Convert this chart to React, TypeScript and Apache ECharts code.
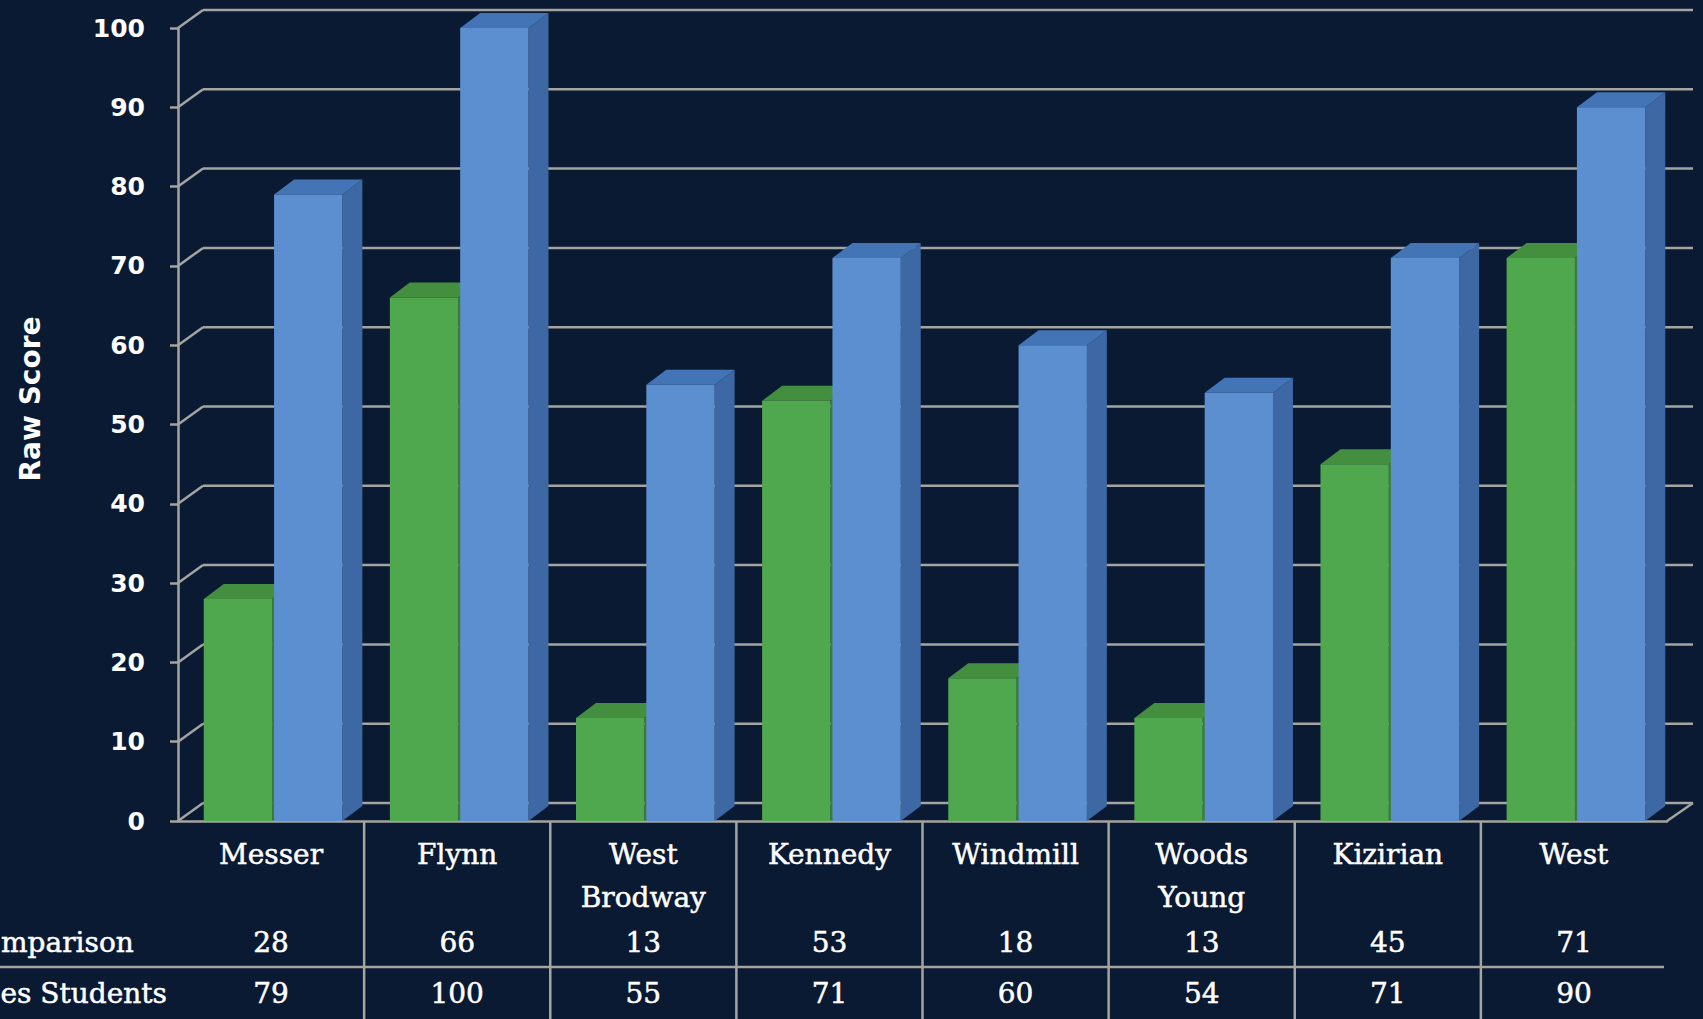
import React, { useEffect, useRef } from "react";
import * as echarts from "echarts";

const categories = ["Messer", "Flynn", "West Brodway", "Kennedy", "Windmill", "Woods Young", "Kizirian", "West"];
const comparison = [28, 66, 13, 53, 18, 13, 45, 71];
const students = [79, 100, 55, 71, 60, 54, 71, 90];
const yTicks = [0, 10, 20, 30, 40, 50, 60, 70, 80, 90, 100];
const rowLabels = ["mparison", "es Students"];
const yAxisTitle = "Raw Score";

const BG = "#0a1a33";
const LINE = "#a4a4a0";
const LW = 2.5;
const DX = 25;
const DY = 18;
const BDX = 20;
const BDY = 15;
const SERIF = '"DejaVu Serif", serif';
const SANS = '"DejaVu Sans", sans-serif';

const greenColors = { front: "#50a84e", top: "#438f3f", side: "#3a7d37" };
const blueColors = { front: "#5b8fd0", top: "#4274b6", side: "#3d68a3" };

const serifStyle = {
  fill: "#ffffff",
  fontFamily: SERIF,
  fontSize: 28,
  stroke: "#ffffff",
  lineWidth: 0.5,
};

function barRender(side: number, colors: { front: string; top: string; side: string }) {
  return (params: any, api: any) => {
    const i = api.value(0);
    const v = api.value(1);
    const base = api.coord([i, 0]);
    const top = api.coord([i, v]);
    const cw = api.size([1, 0])[0];
    const w = cw * 0.367;
    const x0 = side === 0 ? base[0] - w + 1 : base[0] + 3;
    const x1 = x0 + w;
    const y0 = base[1];
    const y1 = top[1];
    return {
      type: "group",
      children: [
        {
          type: "polygon",
          shape: { points: [[x1, y0], [x1 + BDX, y0 - BDY], [x1 + BDX, y1 - BDY], [x1, y1]] },
          style: { fill: colors.side },
        },
        {
          type: "polygon",
          shape: { points: [[x0, y1], [x1, y1], [x1 + BDX, y1 - BDY], [x0 + BDX, y1 - BDY]] },
          style: { fill: colors.top },
        },
        {
          type: "rect",
          shape: { x: x0, y: y1, width: w, height: y0 - y1 },
          style: { fill: colors.front },
        },
      ],
    };
  };
}

function frameRender(params: any, api: any) {
  const v = api.value(1);
  const cs = params.coordSys;
  const y = api.coord([0, v])[1];
  const xl = cs.x;
  const xr = cs.x + cs.width;
  const children: any[] = [
    {
      type: "line",
      shape: { x1: xl + DX, y1: y - DY, x2: xr + DX + 1, y2: y - DY },
      style: { stroke: LINE, lineWidth: LW },
    },
    {
      type: "line",
      shape: { x1: xl, y1: y, x2: xl + DX, y2: y - DY },
      style: { stroke: LINE, lineWidth: LW },
    },
  ];
  if (v === 0) {
    children.push({
      type: "line",
      shape: { x1: xr, y1: y, x2: xr + DX + 1, y2: y - DY },
      style: { stroke: LINE, lineWidth: LW },
    });
  }
  return { type: "group", children };
}

function tableRender(params: any, api: any) {
  const i = api.value(0);
  const cs = params.coordSys;
  const cx = api.coord([i, 0])[0];
  const cw = api.size([1, 0])[0];
  const yb = cs.y + cs.height;
  const children: any[] = [
    {
      type: "text",
      x: cx,
      y: 942,
      style: { ...serifStyle, text: String(comparison[i]), align: "center", verticalAlign: "middle" },
    },
    {
      type: "text",
      x: cx,
      y: 993,
      style: { ...serifStyle, text: String(students[i]), align: "center", verticalAlign: "middle" },
    },
  ];
  if (i < categories.length - 1) {
    children.push({
      type: "line",
      shape: { x1: cx + cw / 2, y1: yb, x2: cx + cw / 2, y2: 1019 },
      style: { stroke: LINE, lineWidth: LW },
    });
  }
  if (i === 0) {
    children.push({
      type: "line",
      shape: { x1: 0, y1: 967, x2: cs.x + cs.width - 3, y2: 967 },
      style: { stroke: LINE, lineWidth: LW },
    });
  }
  return { type: "group", children };
}

export default function App() {
  const ref = useRef<HTMLDivElement>(null);
  useEffect(() => {
    document.body.style.margin = "0";
    const chart = echarts.init(ref.current!, null, { renderer: "svg" });
    chart.setOption({
      animation: false,
      backgroundColor: BG,
      grid: { left: 178, right: 36, top: 28, bottom: 198 },
      xAxis: {
        type: "category",
        data: categories,
        axisLine: { show: true, lineStyle: { color: LINE, width: LW } },
        axisTick: { show: false },
        axisLabel: {
          interval: 0,
          color: "#ffffff",
          fontFamily: SERIF,
          fontSize: 28,
          lineHeight: 43,
          margin: 12,
          textBorderColor: "#ffffff",
          textBorderWidth: 0.5,
          formatter: (v: string) => v.replace(" ", "\n"),
        },
      },
      yAxis: {
        type: "value",
        min: 0,
        max: 100,
        interval: 10,
        axisLine: { show: true, lineStyle: { color: LINE, width: LW } },
        axisTick: { show: true, length: 8, lineStyle: { color: LINE, width: LW } },
        splitLine: { show: false },
        axisLabel: { color: "#ffffff", fontFamily: SANS, fontWeight: "bold", fontSize: 25, margin: 33 },
      },
      graphic: [
        {
          type: "text",
          x: 30,
          y: 399,
          rotation: Math.PI / 2,
          style: { text: yAxisTitle, fill: "#ffffff", fontFamily: SANS, fontWeight: "bold", fontSize: 28, align: "center", verticalAlign: "middle" },
        },
        {
          type: "text",
          x: 1,
          y: 942,
          style: { ...serifStyle, text: rowLabels[0], align: "left", verticalAlign: "middle" },
        },
        {
          type: "text",
          x: 167,
          y: 993,
          style: { ...serifStyle, text: rowLabels[1], align: "right", verticalAlign: "middle" },
        },
      ],
      series: [
        {
          type: "custom",
          name: "frame",
          z: 1,
          data: yTicks.map((v) => [0, v]),
          encode: { x: 0, y: 1 },
          renderItem: frameRender,
          silent: true,
        },
        {
          type: "custom",
          name: "table",
          z: 1,
          data: categories.map((c, i) => [i, 0]),
          encode: { x: 0, y: 1 },
          renderItem: tableRender,
          silent: true,
        },
        {
          type: "custom",
          name: rowLabels[0],
          z: 2,
          data: comparison.map((v, i) => [i, v]),
          encode: { x: 0, y: 1 },
          renderItem: barRender(0, greenColors),
        },
        {
          type: "custom",
          name: rowLabels[1],
          z: 3,
          data: students.map((v, i) => [i, v]),
          encode: { x: 0, y: 1 },
          renderItem: barRender(1, blueColors),
        },
      ],
    });
    return () => chart.dispose();
  }, []);
  return <div ref={ref} style={{ position: "absolute", left: 0, top: 0, width: 1703, height: 1019 }} />;
}
